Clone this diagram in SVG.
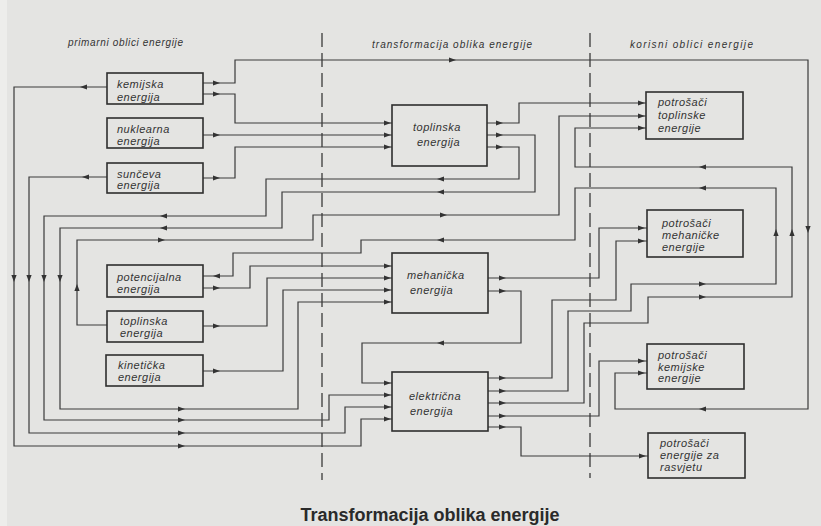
<svg xmlns="http://www.w3.org/2000/svg" xmlns:xlink="http://www.w3.org/1999/xlink" width="821" height="526" viewBox="0 0 821 526">
<style>
.c{fill:none;stroke:#3a3a3a;stroke-width:1.2}
.b{fill:none;stroke:#2e2e2e;stroke-width:1.6}
.t{font-family:"Liberation Sans",Arial,sans-serif;font-style:italic;font-size:11px;letter-spacing:0.5px;fill:#333}
.h{font-family:"Liberation Sans",Arial,sans-serif;font-style:italic;font-size:10px;fill:#333}
.d{fill:none;stroke:#3a3a3a;stroke-width:1.3;stroke-dasharray:14 6}
</style>
<defs>
<path id="a" d="M0,0 L-7,-2.6 L-7,2.6 Z" fill="#333"/>
</defs>
<rect width="821" height="526" fill="#e4e4e2"/>
<rect width="7" height="526" fill="#ededeb"/>

<line class="d" x1="322" y1="33" x2="322" y2="480"/>
<line class="d" x1="590" y1="33" x2="590" y2="478"/>

<text class="h" x="68" y="46" textLength="115" lengthAdjust="spacing">primarni oblici energije</text>
<text class="h" x="372" y="48" textLength="160" lengthAdjust="spacing">transformacija oblika energije</text>
<text class="h" x="630" y="48" textLength="123" lengthAdjust="spacing">korisni oblici energije</text>

<g id="connectors">
<g class="c">
<path d="M107,87 H14 V446 H361 V419 H392"/>
<path d="M203,83 H235 V60 H808 V409 H615 V373 H647"/>
<path d="M203,94 H235 V123 H392"/>
<path d="M203,135 H392"/>
<path d="M203,178 H235 V147 H392"/>
<path d="M107,177 H29 V433 H345 V407 H392"/>
<path d="M487,123 H519 V103 H646"/>
<path d="M487,135 H535 V192 H282 V228 H60 V409 H298 V302 H392"/>
<path d="M487,147 H519 V179 H266 V216 H44 V420 H329 V395 H392"/>
<path d="M107,325 H77 V240 H313 V215 H559 V116 H646"/>
<path d="M203,326 H267 V278 H392"/>
<path d="M203,288 H250 V266 H392"/>
<path d="M488,391 H568 V311 H631 V284 H776 V188 H575 V240 H361 V253 H233 V276 H203"/>
<path d="M203,371 H283 V290 H392"/>
<path d="M488,278 H599 V228 H647"/>
<path d="M488,291 H521 V343 H362 V383 H392"/>
<path d="M488,378 H552 V300 H616 V241 H647"/>
<path d="M488,403 H584 V323 H648 V297 H792 V167 H575 V128 H646"/>
<path d="M488,416 H599 V361 H647"/>
<path d="M488,427 H521 V456 H648"/>
</g>
<g>
<use href="#a" transform="translate(220,83)"/>
<use href="#a" transform="translate(220,94)"/>
<use href="#a" transform="translate(220,135)"/>
<use href="#a" transform="translate(220,178)"/>
<use href="#a" transform="translate(456,60)"/>
<use href="#a" transform="translate(391,123)"/>
<use href="#a" transform="translate(391,135)"/>
<use href="#a" transform="translate(391,147)"/>
<use href="#a" transform="translate(185,446)"/>
<use href="#a" transform="translate(185,433)"/>
<use href="#a" transform="translate(185,420)"/>
<use href="#a" transform="translate(185,409)"/>
<use href="#a" transform="translate(391,419)"/>
<use href="#a" transform="translate(391,407)"/>
<use href="#a" transform="translate(391,395)"/>
<use href="#a" transform="translate(391,383)"/>
<use href="#a" transform="translate(503,123)"/>
<use href="#a" transform="translate(503,135)"/>
<use href="#a" transform="translate(503,147)"/>
<use href="#a" transform="translate(645,103)"/>
<use href="#a" transform="translate(645,116)"/>
<use href="#a" transform="translate(645,128)"/>
<use href="#a" transform="translate(165,240)"/>
<use href="#a" transform="translate(447,215)"/>
<use href="#a" transform="translate(220,326)"/>
<use href="#a" transform="translate(220,288)"/>
<use href="#a" transform="translate(220,371)"/>
<use href="#a" transform="translate(391,278)"/>
<use href="#a" transform="translate(391,266)"/>
<use href="#a" transform="translate(391,290)"/>
<use href="#a" transform="translate(391,302)"/>
<use href="#a" transform="translate(506,391)"/>
<use href="#a" transform="translate(706,284)"/>
<use href="#a" transform="translate(706,297)"/>
<use href="#a" transform="translate(506,278)"/>
<use href="#a" transform="translate(506,291)"/>
<use href="#a" transform="translate(645,228)"/>
<use href="#a" transform="translate(506,378)"/>
<use href="#a" transform="translate(645,241)"/>
<use href="#a" transform="translate(506,403)"/>
<use href="#a" transform="translate(506,416)"/>
<use href="#a" transform="translate(645,361)"/>
<use href="#a" transform="translate(645,373)"/>
<use href="#a" transform="translate(506,427)"/>
<use href="#a" transform="translate(646,456)"/>
<use href="#a" transform="translate(80,87) rotate(180)"/>
<use href="#a" transform="translate(82,177) rotate(180)"/>
<use href="#a" transform="translate(160,228) rotate(180)"/>
<use href="#a" transform="translate(160,216) rotate(180)"/>
<use href="#a" transform="translate(437,192) rotate(180)"/>
<use href="#a" transform="translate(437,179) rotate(180)"/>
<use href="#a" transform="translate(699,409) rotate(180)"/>
<use href="#a" transform="translate(699,188) rotate(180)"/>
<use href="#a" transform="translate(699,167) rotate(180)"/>
<use href="#a" transform="translate(437,240) rotate(180)"/>
<use href="#a" transform="translate(213,276) rotate(180)"/>
<use href="#a" transform="translate(437,343) rotate(180)"/>
<use href="#a" transform="translate(14,282) rotate(90)"/>
<use href="#a" transform="translate(29,282) rotate(90)"/>
<use href="#a" transform="translate(44,282) rotate(90)"/>
<use href="#a" transform="translate(60,282) rotate(90)"/>
<use href="#a" transform="translate(808,233) rotate(90)"/>
<use href="#a" transform="translate(77,284) rotate(-90)"/>
<use href="#a" transform="translate(776,229) rotate(-90)"/>
<use href="#a" transform="translate(792,229) rotate(-90)"/>
</g>
</g>

<g id="kemijska">
<rect class="b" x="107" y="73" width="96" height="31"/>
<text class="t" x="117" y="88">kemijska</text>
<text class="t" x="117" y="101">energija</text>
</g>
<g id="nuklearna">
<rect class="b" x="107" y="118" width="96" height="30"/>
<text class="t" x="117" y="133">nuklearna</text>
<text class="t" x="117" y="145">energija</text>
</g>
<g id="sunceva">
<rect class="b" x="107" y="163" width="96" height="30"/>
<text class="t" x="117" y="178">sunčeva</text>
<text class="t" x="117" y="189">energija</text>
</g>
<g id="potencijalna">
<rect class="b" x="107" y="265" width="96" height="32"/>
<text class="t" x="117" y="281">potencijalna</text>
<text class="t" x="117" y="293">energija</text>
</g>
<g id="toplinska-primarna">
<rect class="b" x="107" y="311" width="96" height="31"/>
<text class="t" x="120" y="325">toplinska</text>
<text class="t" x="120" y="337">energija</text>
</g>
<g id="kineticka">
<rect class="b" x="106" y="355" width="97" height="31"/>
<text class="t" x="118" y="369">kinetička</text>
<text class="t" x="118" y="381">energija</text>
</g>

<g id="toplinska">
<rect class="b" x="392" y="105" width="95" height="61"/>
<text class="t" x="413" y="131">toplinska</text>
<text class="t" x="417" y="146">energija</text>
</g>
<g id="mehanicka">
<rect class="b" x="392" y="253" width="96" height="60"/>
<text class="t" x="407" y="279">mehanička</text>
<text class="t" x="410" y="294">energija</text>
</g>
<g id="elektricna">
<rect class="b" x="392" y="372" width="96" height="59"/>
<text class="t" x="409" y="400">električna</text>
<text class="t" x="410" y="415">energija</text>
</g>

<g id="potrosaci-toplinske">
<rect class="b" x="646" y="92" width="97" height="47"/>
<text class="t" x="658" y="106">potrošači</text>
<text class="t" x="658" y="119">toplinske</text>
<text class="t" x="658" y="132">energije</text>
</g>
<g id="potrosaci-mehanicke">
<rect class="b" x="647" y="210" width="96" height="47"/>
<text class="t" x="662" y="227">potrošači</text>
<text class="t" x="662" y="239">mehaničke</text>
<text class="t" x="662" y="251">energije</text>
</g>
<g id="potrosaci-kemijske">
<rect class="b" x="647" y="344" width="97" height="45"/>
<text class="t" x="658" y="359">potrošači</text>
<text class="t" x="658" y="371">kemijske</text>
<text class="t" x="658" y="382">energije</text>
</g>
<g id="potrosaci-rasvjeta">
<rect class="b" x="648" y="433" width="97" height="45"/>
<text class="t" x="660" y="447">potrošači</text>
<text class="t" x="660" y="459">energije za</text>
<text class="t" x="660" y="471">rasvjetu</text>
</g>

<text x="430" y="521" text-anchor="middle" font-family="'Liberation Sans',Arial,sans-serif" font-weight="bold" font-size="18" fill="#2a2a2a">Transformacija oblika energije</text>
</svg>
